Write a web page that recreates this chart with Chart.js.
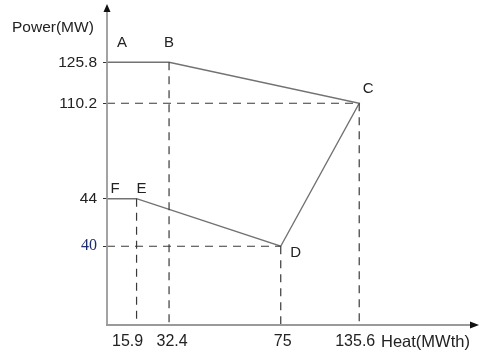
<!DOCTYPE html>
<html lang="en">
<head>
    <meta charset="UTF-8">
    <title>Power vs Heat operating region</title>
    <script src="https://cdn.jsdelivr.net/npm/chart.js"></script>
    <style>
        body { margin: 0; background: #ffffff; }
        .wrap { position: relative; width: 479px; height: 356px; }
    </style>
</head>
<body>
<div class="wrap">
    <canvas id="pq-chart"></canvas>
</div>

<script>
    // operating points A..F (heat in MWth, power in MW)
    const pointNames = ['A', 'B', 'C', 'D', 'E', 'F'];
    const heatValues = [0, 32.4, 135.6, 75, 15.9, 0];
    const powerValues = [125.8, 125.8, 110.2, 40, 44, 44];

    const heatTicks = [15.9, 32.4, 75, 135.6];
    const powerTicks = [40, 44, 110.2, 125.8];

    // dashed guides: drop to the heat axis / run to the power axis
    const verticalGuides = ['B', 'C', 'D', 'E'];
    const horizontalGuides = ['C', 'D'];

    // the original figure is a sketch, not to scale -> piecewise axis mapping
    const xKnots = [[0, 0], [15.9, 0.081], [32.4, 0.170], [75, 0.476], [135.6, 0.691], [180, 1]];
    const yKnots = [[0, 0], [40, 0.250], [44, 0.401], [110.2, 0.704], [125.8, 0.834], [150, 1]];

    function toFrac(knots, v) {
        for (let i = 1; i < knots.length; i++) {
            const [v0, f0] = knots[i - 1], [v1, f1] = knots[i];
            if (v <= v1 || i === knots.length - 1) {
                return f0 + (v - v0) / (v1 - v0) * (f1 - f0);
            }
        }
        return 0;
    }

    function fromFrac(knots, f) {
        for (let i = 1; i < knots.length; i++) {
            const [v0, f0] = knots[i - 1], [v1, f1] = knots[i];
            if (f <= f1 || i === knots.length - 1) {
                return v0 + (f - f0) / (f1 - f0) * (v1 - v0);
            }
        }
        return 0;
    }

    class KnotScale extends Chart.LinearScale {
        knots() { return this.axis === 'x' ? xKnots : yKnots; }
        buildTicks() {
            const vals = this.axis === 'x' ? heatTicks : powerTicks;
            return vals.map(v => ({ value: v }));
        }
        getPixelForValue(value) {
            if (value === null || isNaN(value)) return NaN;
            return this.getPixelForDecimal(toFrac(this.knots(), value));
        }
        getValueForPixel(pixel) {
            return fromFrac(this.knots(), this.getDecimalForPixel(pixel));
        }
    }
    KnotScale.id = 'knot';
    KnotScale.defaults = Chart.LinearScale.defaults;
    Chart.register(KnotScale);

    const pt = name => {
        const i = pointNames.indexOf(name);
        return { x: heatValues[i], y: powerValues[i] };
    };

    const guideStyle = {
        borderColor: '#3a3a3a',
        borderWidth: 1.2,
        borderDash: [8, 6],
        pointRadius: 0,
        showLine: true,
        fill: false
    };

    const datasets = [];
    verticalGuides.forEach(n => {
        const p = pt(n);
        datasets.push({ ...guideStyle, data: [{ x: p.x, y: p.y }, { x: p.x, y: 0 }] });
    });
    horizontalGuides.forEach(n => {
        const p = pt(n);
        datasets.push({ ...guideStyle, data: [{ x: 0, y: p.y }, { x: p.x, y: p.y }] });
    });
    datasets.push({
        data: heatValues.map((h, i) => ({ x: h, y: powerValues[i] })),
        borderColor: '#727272',
        borderWidth: 1.4,
        pointRadius: 0,
        showLine: true,
        fill: false
    });

    // letter offsets from their point (px)
    const letterOffsets = {
        A: [15, -19], B: [0, -19], C: [9, -14], D: [15, 7], E: [5, -10], F: [8, -10]
    };

    // x tick labels sit a little off their dashed line in the original
    const xLabelShift = { 15.9: -9, 32.4: 3, 75: 2, 135.6: -4 };

    const sansFont = '"Liberation Sans", Arial, sans-serif';

    const noPad = s => {
        s.paddingTop = 0; s.paddingBottom = 0;
        s.paddingLeft = 0; s.paddingRight = 0;
    };

    const sketchPlugin = {
        id: 'sketch',
        afterDraw(chart) {
            const { ctx, chartArea: a, scales: { x, y } } = chart;
            const ox = x.getPixelForValue(0), oy = y.getPixelForValue(0);
            ctx.save();
            // axis lines and arrows
            ctx.strokeStyle = '#9a9a9a';
            ctx.fillStyle = '#111';
            ctx.lineWidth = 1.8;
            ctx.beginPath();
            ctx.moveTo(ox, oy + 1); ctx.lineTo(ox, a.top);
            ctx.moveTo(ox - 1, oy); ctx.lineTo(a.right, oy);
            ctx.stroke();
            ctx.beginPath();
            ctx.moveTo(ox, a.top - 6); ctx.lineTo(ox - 3.5, a.top + 2); ctx.lineTo(ox + 3.5, a.top + 2);
            ctx.closePath(); ctx.fill();
            ctx.beginPath();
            ctx.moveTo(a.right + 7, oy); ctx.lineTo(a.right - 2, oy - 3.5); ctx.lineTo(a.right - 2, oy + 3.5);
            ctx.closePath(); ctx.fill();

            // point letters
            ctx.fillStyle = '#222';
            ctx.font = '15px ' + sansFont;
            ctx.textAlign = 'center';
            ctx.textBaseline = 'middle';
            pointNames.forEach((n, i) => {
                const [dx, dy] = letterOffsets[n];
                ctx.fillText(n, x.getPixelForValue(heatValues[i]) + dx, y.getPixelForValue(powerValues[i]) + dy);
            });

            // x tick labels
            ctx.font = '16px ' + sansFont;
            heatTicks.forEach(v => {
                ctx.fillText(String(v), x.getPixelForValue(v) + xLabelShift[v], oy + 17);
            });

            // axis names
            ctx.textAlign = 'left';
            ctx.font = '15.5px ' + sansFont;
            ctx.fillText('Power(MW)', 12, 28);
            ctx.font = '16.5px ' + sansFont;
            ctx.fillText('Heat(MWth)', 381, oy + 17);
            ctx.restore();
        }
    };

    new Chart(document.getElementById('pq-chart'), {
        type: 'scatter',
        data: { datasets },
        options: {
            responsive: true,
            maintainAspectRatio: false,
            animation: false,
            events: [],
            layout: { padding: { top: 10, right: 7, left: 0, bottom: 0 } },
            plugins: {
                legend: { display: false },
                tooltip: { enabled: false }
            },
            scales: {
                x: {
                    type: 'knot',
                    min: 0,
                    max: 180,
                    grid: { display: false, drawTicks: false },
                    border: { display: false },
                    afterFit: s => { s.height = 31; noPad(s); },
                    ticks: {
                        display: false,
                        autoSkip: false
                    }
                },
                y: {
                    type: 'knot',
                    min: 0,
                    max: 150,
                    grid: { display: true, drawOnChartArea: false, drawTicks: true, tickLength: 4, color: '#333', lineWidth: 1 },
                    border: { display: false },
                    afterFit: s => { s.width = 107; noPad(s); },
                    ticks: {
                        autoSkip: false,
                        padding: 6,
                        color: ctx => ctx.tick && ctx.tick.value === 40 ? '#1d2b6e' : '#222',
                        font: ctx => ctx.tick && ctx.tick.value === 40
                            ? { family: '"Liberation Serif", "Times New Roman", serif', size: 16 }
                            : { family: sansFont, size: 15.5 },
                        callback: v => String(v)
                    }
                }
            }
        },
        plugins: [sketchPlugin]
    });
</script>
</body>
</html>
